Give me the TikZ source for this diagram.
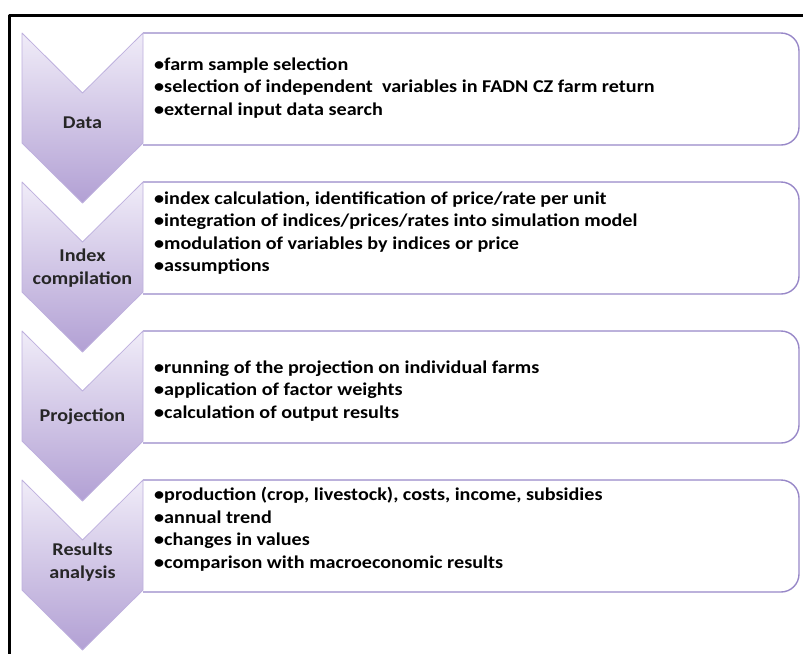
\documentclass[tikz,border=0pt]{standalone}
\usepackage{fontspec}
\setmainfont{Carlito}[FakeStretch=1.12]
\usepackage{tikz}
\definecolor{chevtop}{RGB}{240,236,248}
\definecolor{chevbot}{RGB}{178,160,212}
\definecolor{chevline}{RGB}{190,176,222}
\definecolor{boxline}{RGB}{152,136,200}
\definecolor{labeltext}{RGB}{38,38,38}
\begin{document}
\begin{tikzpicture}[x=1pt,y=-1pt,line cap=round,line join=round,
  chev/.style={draw=chevline,line width=0.8pt,top color=chevtop,bottom color=chevbot},
  listbox/.style={draw=boxline,line width=1.4pt,fill=white,rounded corners=18pt},
  steplabel/.style={font=\fontsize{18}{23}\selectfont\bfseries,text=labeltext,align=center,inner sep=0pt},
  itemtext/.style={font=\fontsize{18}{22.5}\selectfont\bfseries,text=black,anchor=west,align=left,inner sep=0pt}]
        \useasboundingbox (0,0) rectangle (803,654);
        \draw[line width=3pt,line cap=butt] (803,15) -- (9,15) -- (9,654);
        \begin{scope}
        \clip (143,0) rectangle (803,654);
        \draw[listbox] (120,33) rectangle (799,145);
        \draw[listbox] (120,182) rectangle (799,294);
        \draw[listbox] (120,331) rectangle (799,443);
        \draw[listbox] (120,480) rectangle (799,592);
        \end{scope}
        \draw[chev] (22,33) -- (82.5,93) -- (143,33) -- (143,143) -- (82.5,203) -- (22,143) -- cycle;
        \draw[chev] (22,182) -- (82.5,242) -- (143,182) -- (143,292) -- (82.5,352) -- (22,292) -- cycle;
        \draw[chev] (22,331) -- (82.5,391) -- (143,331) -- (143,441) -- (82.5,501) -- (22,441) -- cycle;
        \draw[chev] (22,480) -- (82.5,540) -- (143,480) -- (143,590) -- (82.5,650) -- (22,590) -- cycle;
        \node[steplabel] (data) at (82.5,123) {Data};
        \node[steplabel] (index) at (82.5,268) {Index\\compilation};
        \node[steplabel] (projection) at (82.5,417) {Projection};
        \node[steplabel] (results) at (82.5,562) {Results\\analysis};
        \node[itemtext] (datalist) at (154,88) {•farm sample selection\\•selection of independent~ variables in FADN CZ farm return\\•external input data search};
        \node[itemtext] (indexlist) at (154,233) {•index calculation, identification of price/rate per unit\\•integration of indices/prices/rates into simulation model\\•modulation of variables by indices or price\\•assumptions};
        \node[itemtext] (projectionlist) at (154,391) {•running of the projection on individual farms\\•application of factor weights\\•calculation of output results};
        \node[itemtext] (resultslist) at (154,529) {•production (crop, livestock), costs, income, subsidies\\•annual trend\\•changes in values\\•comparison with macroeconomic results};
      \end{tikzpicture}
\end{document}
